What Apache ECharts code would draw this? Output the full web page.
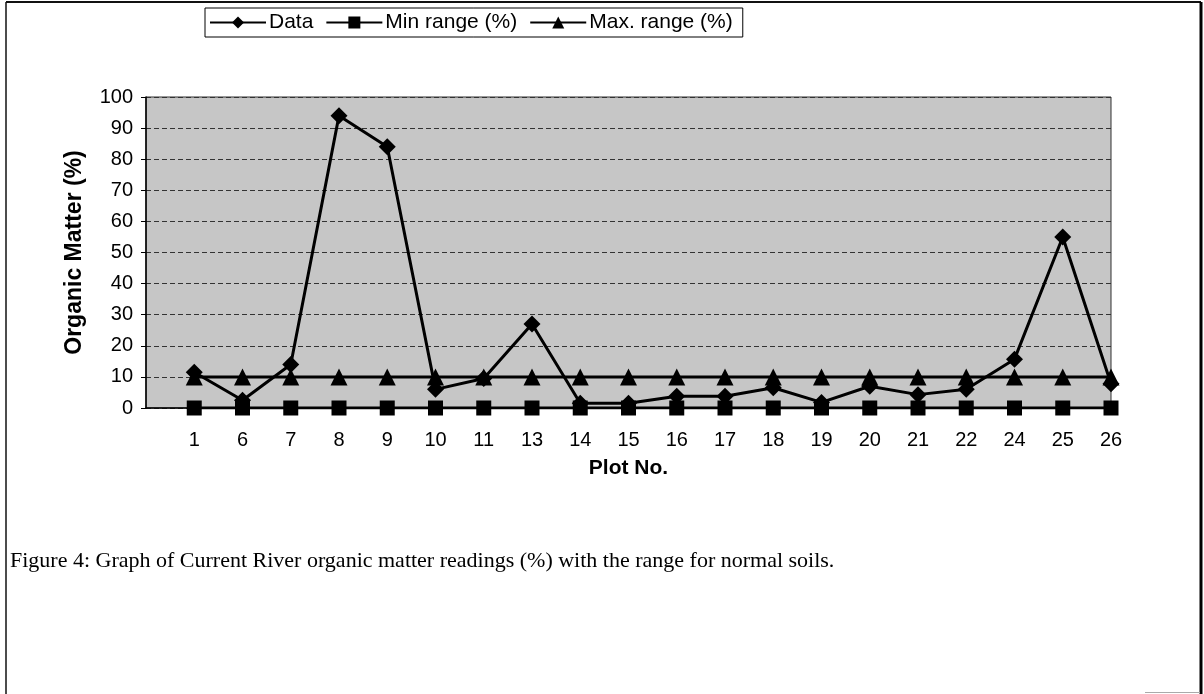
<!DOCTYPE html>
<html>
<head>
<meta charset="utf-8">
<script src="https://cdn.jsdelivr.net/npm/echarts@6/dist/echarts.min.js"></script>
<style>
  html, body { margin: 0; padding: 0; background: #fff; }
  #chart { width: 1204px; height: 694px; }
</style>
</head>
<body>
<div id="chart"></div>
<script>
// ---- data ----
const plots = ['1','6','7','8','9','10','11','13','14','15','16','17','18','19','20','21','22','24','25','26'];
const dataValues = [11.5, 2.5, 14, 94, 84, 6, 9.5, 27, 1.5, 1.5, 3.8, 3.8, 6.5, 1.8, 7, 4.3, 6, 15.7, 55, 7.8];
const minRange = [0,0,0,0,0,0,0,0,0,0,0,0,0,0,0,0,0,0,0,0];
const maxRange = [10,10,10,10,10,10,10,10,10,10,10,10,10,10,10,10,10,10,10,10];
const yTicks = [0,10,20,30,40,50,60,70,80,90,100];
const caption = 'Figure 4: Graph of Current River organic matter readings (%) with the range for normal soils.';

const toXY = arr => arr.map((v, i) => [i + 1, v]);

const chart = echarts.init(document.getElementById('chart'));
const font = 'Liberation Sans, Arial, sans-serif';

const option = {
  backgroundColor: '#ffffff',
  animation: false,
  legend: {
    left: 205, top: 8,
    orient: 'horizontal',
    itemWidth: 56, itemHeight: 15,
    itemGap: 12,
    padding: [4, 10, 4, 4],
    borderColor: '#000', borderWidth: 1,
    textStyle: { fontFamily: font, fontSize: 21, color: '#000', padding: [0, 0, 0, -2] },
    data: ['Data', 'Min range (%)', 'Max. range (%)']
  },
  grid: {
    left: 146, right: 93, top: 97, bottom: 286,
    show: true, backgroundColor: '#c6c6c6', borderColor: '#333', borderWidth: 1
  },
  xAxis: {
    type: 'value', min: 0, max: 20, interval: 1,
    name: 'Plot No.', nameLocation: 'middle', nameGap: 50,
    nameTextStyle: { fontFamily: font, fontSize: 21, fontWeight: 'bold', color: '#000' },
    axisLine: { show: true, lineStyle: { color: '#000', width: 1.5 } },
    axisTick: { show: false },
    splitLine: { show: false },
    axisLabel: {
      margin: 22, fontFamily: font, fontSize: 20, color: '#000',
      formatter: v => (v >= 1 && v <= plots.length) ? plots[v - 1] : ''
    }
  },
  yAxis: {
    type: 'value', min: yTicks[0], max: yTicks[yTicks.length - 1], interval: 10,
    name: 'Organic Matter (%)', nameLocation: 'middle', nameGap: 60,
    nameTextStyle: { fontFamily: font, fontSize: 23, fontWeight: 'bold', color: '#000' },
    axisLine: { show: true, lineStyle: { color: '#000', width: 1.5 } },
    axisTick: { show: true, length: 5, lineStyle: { color: '#000' } },
    axisLabel: { margin: 13, fontFamily: font, fontSize: 20, color: '#000' },
    splitLine: { show: true, lineStyle: { color: '#333', width: 1, type: [5, 3] } }
  },
  series: [
    {
      name: 'Data', type: 'line', data: toXY(dataValues),
      symbol: 'diamond', symbolSize: 17,
      lineStyle: { color: '#000', width: 3 },
      itemStyle: { color: '#000' }, z: 4
    },
    {
      name: 'Min range (%)', type: 'line', data: toXY(minRange),
      symbol: 'rect', symbolSize: 15,
      lineStyle: { color: '#000', width: 3 },
      itemStyle: { color: '#000' }, z: 3
    },
    {
      name: 'Max. range (%)', type: 'line', data: toXY(maxRange),
      symbol: 'triangle', symbolSize: 17,
      lineStyle: { color: '#000', width: 3 },
      itemStyle: { color: '#000' }, z: 3
    }
  ],
  graphic: [
    { type: 'line', shape: { x1: 6, y1: 2, x2: 1201, y2: 2 }, style: { stroke: '#111', lineWidth: 2 } },
    { type: 'line', shape: { x1: 6, y1: 2, x2: 6, y2: 694 }, style: { stroke: '#111', lineWidth: 1.5 } },
    { type: 'line', shape: { x1: 1201, y1: 2, x2: 1201, y2: 694 }, style: { stroke: '#000', lineWidth: 3 } },
    { type: 'line', shape: { x1: 1145, y1: 692.5, x2: 1200, y2: 692.5 }, style: { stroke: '#aaa', lineWidth: 1 } },
    {
      type: 'text', left: 10, top: 550,
      style: { text: caption, font: '22px "Liberation Serif", "Times New Roman", serif', fill: '#000' }
    }
  ]
};
chart.setOption(option);
</script>
</body>
</html>
